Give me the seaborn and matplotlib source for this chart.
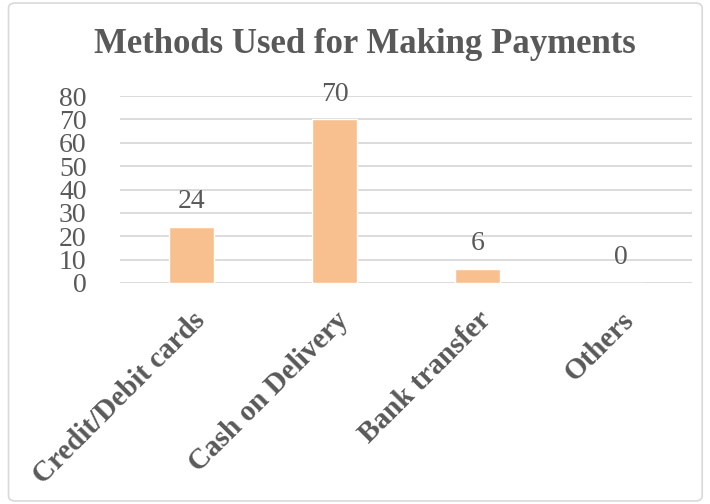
import matplotlib
matplotlib.use("Agg")
import matplotlib.pyplot as plt
from matplotlib.patches import FancyBboxPatch
import seaborn as sns
import pandas as pd

methods = ["Credit/Debit cards", "Cash on Delivery", "Bank transfer", "Others"]
counts = [24, 70, 6, 0]
y_ticks = [0, 10, 20, 30, 40, 50, 60, 70, 80]

TEXT = "#595959"
BAR = "#F9C08F"
GRID = "#D9D9D9"

sns.set_theme(style="white")
plt.rcParams["font.family"] = ["Liberation Serif", "DejaVu Serif"]

df = pd.DataFrame({"method": methods, "count": counts})

fig = plt.figure(figsize=(7.10, 5.04), dpi=100)
fig.patch.set_facecolor("white")
ax = fig.add_axes([0.169, 0.4385, 0.806, 0.371])

sns.barplot(data=df, x="method", y="count", color=BAR, saturation=1,
            width=0.31, ax=ax, zorder=3)

ax.set_ylim(0, 80)
ax.set_yticks(y_ticks)
ax.set_xlim(-0.5, len(methods) - 0.5)
ax.yaxis.grid(True, color=GRID, linewidth=1.3, zorder=0)
ax.xaxis.grid(False)
for s in ax.spines.values():
    s.set_visible(False)
ax.set_xlabel("")
ax.set_ylabel("")
ax.tick_params(axis="y", labelsize=20, labelcolor=TEXT, length=0, pad=24)
ax.tick_params(axis="x", length=0, pad=17)
ax.set_xticks(range(len(methods)))
ax.set_xticklabels(methods, rotation=45, ha="right", rotation_mode="anchor",
                   fontsize=21, fontweight="bold", color=TEXT)

for i, v in enumerate(counts):
    ax.annotate(f"{v}", xy=(i, v), xytext=(0, 9), textcoords="offset points",
                ha="center", va="bottom", fontsize=20, color=TEXT,
                annotation_clip=False)

fig.text(0.514, 0.912, "Methods Used for Making Payments", ha="center",
         va="center", fontsize=25, fontweight="bold", color=TEXT)

border = FancyBboxPatch((0.012, 0.006), 0.977, 0.988,
                        boxstyle="round,pad=0,rounding_size=0.01",
                        transform=fig.transFigure, fill=False,
                        edgecolor=GRID, linewidth=1.2)
fig.patches.append(border)

fig.savefig("out.png", dpi=100)
